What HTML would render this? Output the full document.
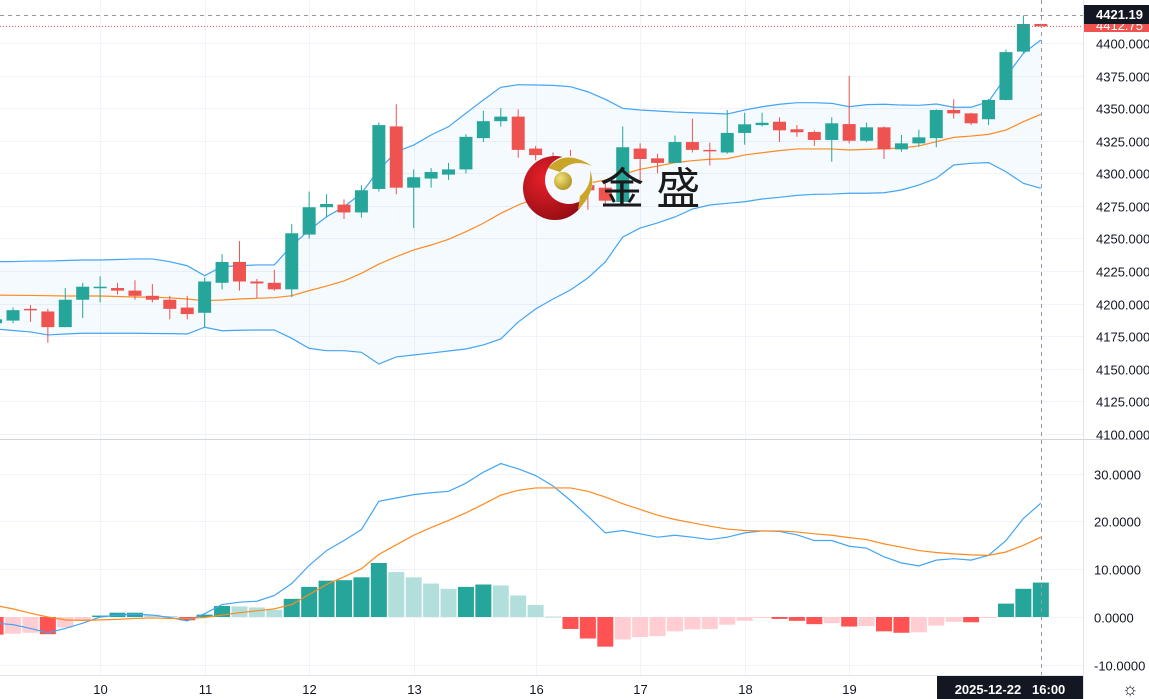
<!DOCTYPE html>
<html><head><meta charset="utf-8"><style>
html,body{margin:0;padding:0;background:#fff;}
svg{display:block;font-family:"Liberation Sans","Noto Sans CJK SC",sans-serif;}
</style></head><body>
<svg id="chart" width="1149" height="699" viewBox="0 0 1149 699" xmlns="http://www.w3.org/2000/svg">
<defs>
<clipPath id="mainClip"><rect x="0" y="0" width="1083" height="439"/></clipPath>
<clipPath id="macdClip"><rect x="0" y="440" width="1083" height="235"/></clipPath>
<radialGradient id="redG" cx="0.35" cy="0.35" r="0.8"><stop offset="0" stop-color="#e8202a"/><stop offset="1" stop-color="#8a0b10"/></radialGradient>
<radialGradient id="goldG" cx="0.35" cy="0.35" r="0.8"><stop offset="0" stop-color="#f3e27a"/><stop offset="1" stop-color="#a88a1c"/></radialGradient>
</defs>
<g id="grid"></g>
<g id="bb" clip-path="url(#mainClip)"></g>
<g id="candles" clip-path="url(#mainClip)"></g>
<g id="macd" clip-path="url(#macdClip)"></g>
<g>
  <circle cx="555" cy="188" r="32" fill="url(#redG)"/>
  <circle cx="569" cy="180" r="24" fill="#f5f9fd"/>
  <path d="M548 168 Q565 148 592 166 Q572 158 560 172 Z" fill="#c9a52a"/>
  <path d="M580 196 Q592 186 590 170 Q598 190 578 210 Z" fill="#c9a52a"/>
  <circle cx="563" cy="181" r="9" fill="url(#goldG)"/>
  <text x="600" y="204" font-size="44" fill="#1a1a1a">金 盛</text>
</g>
<line x1="0" y1="439.5" x2="1149" y2="439.5" stroke="#d1d4dc"/>
<line x1="1083.5" y1="0" x2="1083.5" y2="699" stroke="#e0e3eb"/>
<line x1="0" y1="675.5" x2="1083" y2="675.5" stroke="#e0e3eb"/>
<g id="axes"></g>
</svg>
<script>
const opens=[4185,4187,4196,4194,4182,4203,4212,4212,4210,4206,4203,4197,4193,4216,4232,4217,4216,4211,4253,4274,4276,4270,4288,4336,4289,4296,4299,4303,4327,4340,4343.5,4319,4310,4305,4291,4289,4278,4319,4311.5,4308,4324,4318,4316,4331,4337,4339.6,4333.8,4331.7,4325.6,4337.8,4325,4335.3,4318.4,4323,4327,4348.6,4346,4341.5,4356.3,4393.4,4414.6];
const highs=[4190,4197,4199,4196,4212,4216,4221,4216,4218,4215,4206,4206,4220,4238,4248,4219,4226,4261,4286,4284,4280,4291,4339,4353,4303,4304,4308,4330,4348,4350,4349,4321,4316,4318,4294,4292,4336,4323,4315,4329,4342,4323.5,4348.6,4346.5,4346.5,4343,4337,4333,4343,4374.7,4339,4336,4329.4,4333.4,4349,4356.8,4346.5,4357,4395,4421.19,4414.8];
const lows=[4183,4185,4186,4170,4182,4189,4201,4207,4203,4201,4188,4188,4182,4211,4210,4204,4210,4205,4250,4266,4265,4266,4286,4284,4258,4289,4295,4300,4324,4336,4312,4310,4298,4280,4272,4275,4276,4295,4300,4308,4316,4306,4315,4322,4336,4324,4328,4321,4309,4323,4324,4311,4316.6,4320.5,4320,4342,4337,4337,4356,4392.3,4412.5];
const closes=[4188,4195,4195,4182,4203,4213,4213,4210,4206,4203,4196,4192,4217,4232,4217,4215.5,4211,4254,4274,4276.5,4270,4287,4337,4289,4297,4301,4303,4328,4340,4343.5,4318,4314,4304,4284,4287,4279,4320,4311,4308,4324,4318,4317,4331,4337.6,4338.8,4333,4331.5,4325.6,4338.4,4325,4335.3,4318.4,4323,4327.6,4348.6,4346,4338.4,4356.3,4393,4414.6,4412.75];
const bbUpper=[4232.2,4232.3,4232.7,4232.7,4233.1,4233.5,4233.5,4233.9,4234.3,4234.3,4232.2,4229.1,4221.5,4228.4,4229.1,4229.7,4229.7,4244.5,4256.5,4266.7,4274.4,4284.7,4302.6,4316.6,4321.7,4329.4,4335.8,4346.1,4356.3,4366,4368,4367.8,4367.5,4366.5,4362.6,4356.8,4349.9,4348.6,4347.8,4347,4346.5,4346.1,4345.5,4348.6,4351.1,4353,4354.2,4354.2,4353.7,4351.1,4352.7,4353,4352.4,4352.2,4353.2,4350.7,4350.7,4355,4374.1,4392.1,4402.3];
const bbMiddle=[4206.6,4206.4,4206.3,4206.1,4205.9,4205.9,4205.9,4205.5,4205.1,4204.9,4204.5,4203.6,4202.3,4202.8,4203.6,4204.1,4204.6,4206.1,4210,4213.5,4217.4,4223.3,4230.4,4236,4241.2,4245,4249.4,4255.2,4261.7,4269.3,4275.7,4280.8,4284.7,4288.5,4292.3,4294.9,4299.3,4303.1,4305.6,4308.2,4309.7,4310.8,4311.2,4314.1,4315.8,4317.4,4318.7,4318.7,4318.7,4317.9,4318.4,4318.9,4319.4,4321,4324.3,4327.6,4328.6,4329.9,4333.2,4339.6,4345.3];
const bbLower=[4180.6,4179.4,4178.3,4176,4176.7,4177.3,4177.3,4177.3,4177.3,4177.1,4177,4176.7,4181.9,4179.2,4179.6,4179.8,4179.8,4173.4,4165.7,4163.9,4163.9,4162.7,4153.7,4159.1,4160.6,4162.1,4163.7,4165.2,4168.3,4172.9,4185.9,4195.9,4203.6,4210.5,4219.7,4232,4251.1,4258,4261.9,4266.5,4272.6,4275.7,4277,4278.2,4280.3,4281.6,4283.1,4283.9,4284.1,4284.7,4284.7,4285.1,4287.2,4291,4296.2,4306.4,4307.7,4308.2,4301.2,4292.3,4288.5];
const macdLine=[-1.3,-1.6,-2.4,-3.3,-2.4,-1.3,0,0.4,0.6,0.4,-0.1,-0.8,0.7,2.6,3.1,3.3,4.5,7.0,10.8,13.9,16.0,18.3,24.2,24.9,25.6,26.0,26.3,28.0,30.3,32.1,31.0,29.6,27.4,24.4,21.1,17.6,18.1,17.4,16.7,17.1,16.7,16.2,16.7,17.6,18.0,17.9,17.2,16.0,16.0,14.8,14.4,12.6,11.3,10.7,11.9,12.2,11.9,12.9,16.0,20.6,23.8];
const signalLine=[2.4,1.7,0.8,0,-0.6,-0.7,-0.6,-0.5,-0.3,-0.2,-0.3,-0.3,-0.1,0.4,0.9,1.3,1.7,2.6,4.7,6.8,8.4,10.1,13.1,15.1,17.1,18.7,20.2,21.8,23.6,25.5,26.5,27.0,27.0,27.0,26.3,25.1,23.7,22.5,21.3,20.4,19.7,19.0,18.4,18.1,18.0,18.0,17.8,17.4,17.1,16.6,16.2,15.3,14.6,13.9,13.5,13.2,13.0,12.9,13.6,15.0,16.7];
const histogram=[-3.7,-3.5,-3.3,-3.6,-2.2,-0.8,0.3,0.9,0.9,0.5,0.2,-0.7,0.5,2.3,2.2,2.0,1.5,3.8,6.3,7.6,7.7,8.3,11.3,9.4,8.3,7.0,5.9,6.3,6.8,6.6,4.5,2.5,0.1,-2.5,-4.5,-6.2,-4.7,-4.2,-4.0,-3.0,-2.6,-2.5,-1.6,-0.8,-0.2,-0.4,-0.8,-1.5,-1.3,-2.0,-1.9,-3.0,-3.3,-3.2,-1.8,-1.0,-1.1,-0.2,2.8,5.9,7.2];
const priceTicks=[4100,4125,4150,4175,4200,4225,4250,4275,4300,4325,4350,4375,4400];
const macdTicks=[-10,0,10,20,30];
const dateLabels=["10","11","12","13","16","17","18","19"];
const dateIndex=[6,12,18,24,31,37,43,49];
const crosshairPrice=4421.19;

const NS="http://www.w3.org/2000/svg";
function xOf(i){return -4.4+17.42*i;}
function yP(p){return 43+(4400-p)*1.3033;}
function yM(v){return 617-v*4.78;}
function mk(tag,attrs,parent){const e=document.createElementNS(NS,tag);for(const k in attrs)e.setAttribute(k,attrs[k]);parent.appendChild(e);return e;}
const grid=document.getElementById('grid'),bb=document.getElementById('bb'),cg=document.getElementById('candles'),mg=document.getElementById('macd'),ax=document.getElementById('axes');

priceTicks.forEach(t=>{const y=Math.round(yP(t))+0.5;const l=mk('line',{x1:0,x2:1083,y1:y,y2:y,stroke:'#f0f3fa'},grid);


const tx=mk('text',{x:1096,y:y+5,'font-size':13,fill:'#131722'},ax);tx.textContent=t.toFixed(3);

});
macdTicks.forEach(t=>{const y=Math.round(yM(t))+0.5;const l=mk('line',{x1:0,x2:1083,y1:y,y2:y,stroke:'#f0f3fa'},grid);


const tx=mk('text',{x:1094,y:y+5,'font-size':13,fill:'#131722'},ax);tx.textContent=t.toFixed(4);

});
dateIndex.forEach((di,k)=>{const x=Math.round(xOf(di))+0.5;const l=mk('line',{x1:x,x2:x,y1:0,y2:675,stroke:'#f0f3fa'},grid);


const tx=mk('text',{x:x,y:694,'font-size':13,fill:'#131722','text-anchor':'middle'},ax);tx.textContent=dateLabels[k];

});

const n=closes.length;
let up=[],lo=[],mid=[];
for(let i=0;i<n;i++){up.push(xOf(i)+','+yP(bbUpper[i]));lo.push(xOf(i)+','+yP(bbLower[i]));mid.push(xOf(i)+','+yP(bbMiddle[i]));}
const fill=mk('polygon',{points:up.concat(lo.slice().reverse()).join(' '),fill:'rgba(33,150,243,0.05)'},bb);


const pu=mk('polyline',{points:up.join(' '),fill:'none',stroke:'#42a5f5','stroke-width':1.2},bb);


const pl=mk('polyline',{points:lo.join(' '),fill:'none',stroke:'#42a5f5','stroke-width':1.2},bb);


const pm=mk('polyline',{points:mid.join(' '),fill:'none',stroke:'#ff8a1f','stroke-width':1.2},bb);



for(let i=0;i<n;i++){const x=xOf(i);const upC=closes[i]>=opens[i];const col=upC?'#26a69a':'#ef5350';
const g=mk('g',{},cg);


mk('line',{x1:x,x2:x,y1:yP(highs[i]),y2:yP(lows[i]),stroke:col,'stroke-width':1},g);
const t=yP(Math.max(opens[i],closes[i])),b=yP(Math.min(opens[i],closes[i]));
mk('rect',{x:x-6.5,y:t,width:13,height:Math.max(1.5,b-t),fill:col},g);}

const cy=Math.round(yP(crosshairPrice))+0.5;
const cross=mk('line',{x1:0,x2:1083,y1:cy,y2:cy,stroke:'#9598a1','stroke-dasharray':'4 4'},ax);


const pline=mk('line',{x1:0,x2:1083,y1:yP(closes[n-1]),y2:yP(closes[n-1]),stroke:'#ef5350','stroke-dasharray':'1 2'},ax);


const vx=Math.round(xOf(n-1))+0.5;
const vcross=mk('line',{x1:vx,x2:vx,y1:0,y2:675,stroke:'#9598a1','stroke-dasharray':'4 4'},ax);


const lr=mk('rect',{x:1084,y:18,width:65,height:14,fill:'#ef5350'},ax);


const lt=mk('text',{x:1096,y:30,'font-size':13,fill:'#fff'},ax);lt.textContent=closes[n-1].toFixed(2);


const cr=mk('rect',{x:1084,y:5,width:65,height:19,fill:'#131722'},ax);


const ct=mk('text',{x:1096,y:19,'font-size':13,fill:'#fff','font-weight':'bold'},ax);ct.textContent=crosshairPrice.toFixed(2);


const tb=mk('rect',{x:937,y:676,width:146,height:23,fill:'#131722'},ax);


const tt=mk('text',{x:1010,y:694,'font-size':13,fill:'#fff','text-anchor':'middle','font-weight':'bold',style:'white-space:pre'},ax);tt.textContent='2025-12-22   16:00';


const gear=mk('text',{x:1130,y:695,'font-size':18,fill:'#131722','text-anchor':'middle'},ax);gear.textContent='☼';



for(let i=0;i<n;i++){const v=histogram[i],pv=i>0?histogram[i-1]:v;let col;
if(v>=0)col=(v>=pv)?'#26a69a':'#b2dfdb';else col=(v<=pv)?'#ff5252':'#ffcdd2';
const y0=yM(0),y1=yM(v);
const r=mk('rect',{x:xOf(i)-8,y:Math.min(y0,y1),width:16,height:Math.max(1,Math.abs(y1-y0)),fill:col},mg);

}
let mp=[],sp=[];
for(let i=0;i<n;i++){mp.push(xOf(i)+','+yM(macdLine[i]));sp.push(xOf(i)+','+yM(signalLine[i]));}
const ml=mk('polyline',{points:mp.join(' '),fill:'none',stroke:'#42a5f5','stroke-width':1.2},mg);


const sl=mk('polyline',{points:sp.join(' '),fill:'none',stroke:'#ff8a1f','stroke-width':1.2},mg);


</script>
</body></html>
